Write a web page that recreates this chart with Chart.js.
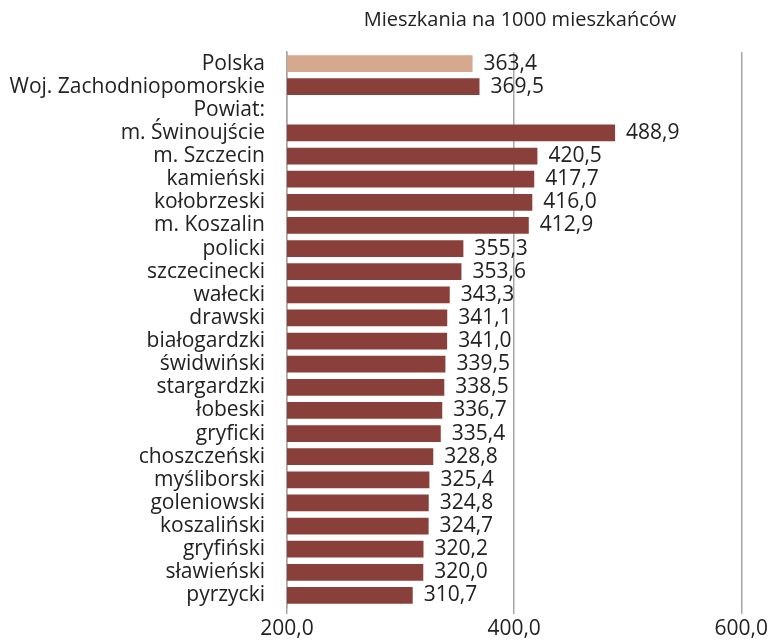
<!DOCTYPE html>
<html>
<head>
<meta charset="utf-8">
<script src="https://cdn.jsdelivr.net/npm/chart.js@4/dist/chart.umd.min.js"></script>
<style>
  html, body { margin: 0; padding: 0; background: #fff; }
  #wrap { width: 770px; height: 642px; }
</style>
</head>
<body>
<div id="wrap"><canvas id="chart"></canvas></div>
<script>
  var chartTitle = 'Mieszkania na 1000 mieszkańców';

  var categories = [
    'Polska', 'Woj. Zachodniopomorskie', 'Powiat:', 'm. Świnoujście', 'm. Szczecin',
    'kamieński', 'kołobrzeski', 'm. Koszalin', 'policki', 'szczecinecki', 'wałecki',
    'drawski', 'białogardzki', 'świdwiński', 'stargardzki', 'łobeski', 'gryficki',
    'choszczeński', 'myśliborski', 'goleniowski', 'koszaliński', 'gryfiński',
    'sławieński', 'pyrzycki'
  ];

  var values = [
    363.4, 369.5, null, 488.9, 420.5,
    417.7, 416.0, 412.9, 355.3, 353.6, 343.3,
    341.1, 341.0, 339.5, 338.5, 336.7, 335.4,
    328.8, 325.4, 324.8, 324.7, 320.2,
    320.0, 310.7
  ];

  var xTicks = [200, 400, 600];

  var fontFamily = '"Open Sans", Lato, sans-serif';
  var fontSize = 21;
  var titleSize = 20;

  var barColors = values.map(function(v, i) {
    return i === 0 ? '#d4a98f' : '#89403a';
  });

  // labels after each bar
  var valueLabels = {
    id: 'valueLabels',
    afterDatasetsDraw: function(chart) {
      var ctx = chart.ctx;
      var meta = chart.getDatasetMeta(0);
      ctx.save();
      ctx.font = fontSize + 'px ' + fontFamily;
      ctx.fillStyle = '#222';
      ctx.textAlign = 'left';
      ctx.textBaseline = 'middle';
      meta.data.forEach(function(bar, i) {
        if (values[i] === null) return;
        ctx.fillText(values[i].toFixed(1).replace('.', ','), bar.x + 11, bar.y);
      });
      ctx.restore();
    }
  };

  var topTitle = {
    id: 'topTitle',
    afterDraw: function(chart) {
      var ctx = chart.ctx;
      ctx.save();
      ctx.font = titleSize + 'px ' + fontFamily;
      ctx.fillStyle = '#222';
      ctx.textAlign = 'center';
      ctx.textBaseline = 'middle';
      ctx.fillText(chartTitle, 520, 20);
      ctx.restore();
    }
  };

  new Chart(document.getElementById('chart'), {
    type: 'bar',
    data: {
      labels: categories,
      datasets: [{
        data: values,
        backgroundColor: barColors,
        barPercentage: 0.72,
        categoryPercentage: 1
      }]
    },
    options: {
      indexAxis: 'y',
      responsive: true,
      maintainAspectRatio: false,
      animation: false,
      layout: { padding: { top: 52, right: 28, bottom: 0, left: 0 } },
      plugins: {
        legend: { display: false },
        tooltip: { enabled: false }
      },
      scales: {
        x: {
          min: 200,
          max: 600,
          afterBuildTicks: function(scale) {
            scale.ticks = xTicks.map(function(v) { return { value: v }; });
          },
          afterFit: function(scale) { scale.height = 35; },
          grid: { color: '#a6a6a6', lineWidth: 1.5, tickLength: 7 },
          border: { display: false },
          ticks: {
            padding: 2,
            color: '#222',
            font: { family: fontFamily, size: fontSize },
            maxRotation: 0,
            callback: function(v) { return v.toFixed(1).replace('.', ','); }
          }
        },
        y: {
          afterFit: function(scale) { scale.width = 287; },
          grid: { display: false, drawTicks: false },
          border: { display: true, color: '#a6a6a6', width: 1.5 },
          ticks: {
            padding: 22,
            color: '#222',
            font: { family: fontFamily, size: fontSize },
            autoSkip: false
          }
        }
      }
    },
    plugins: [valueLabels, topTitle]
  });
</script>
</body>
</html>
